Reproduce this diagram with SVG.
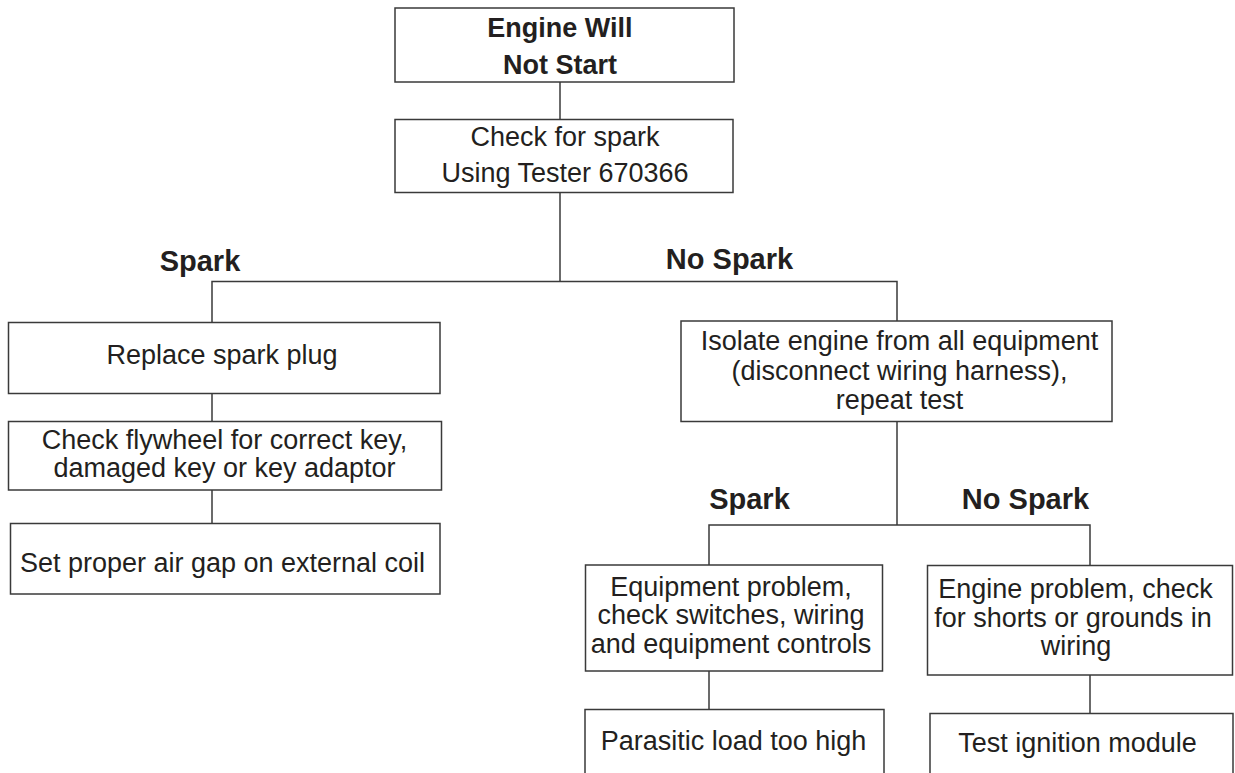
<svg xmlns="http://www.w3.org/2000/svg" width="1235" height="773" viewBox="0 0 1235 773">
  <style>
    .box { fill: #ffffff; stroke: #3a3a3a; stroke-width: 1.5; }
    .wire { fill: none; stroke: #3a3a3a; stroke-width: 1.5; }
    text { font-family: "Liberation Sans", Arial, sans-serif; fill: #231f20; text-anchor: middle; }
    .t { font-size: 27px; }
    .title { font-size: 27px; font-weight: bold; }
    .label { font-size: 29px; font-weight: bold; }
  </style>
  <rect width="1235" height="773" fill="#ffffff"/>

  <!-- connectors -->
  <g id="connectors">
    <path class="wire" d="M560 82 V119.5"/>
    <path class="wire" d="M560 192.5 V281.5"/>
    <path class="wire" d="M212 322.5 V281.5 H897 V321"/>
    <path class="wire" d="M212 393.5 V421.5"/>
    <path class="wire" d="M212 490 V523.5"/>
    <path class="wire" d="M897 421.5 V525"/>
    <path class="wire" d="M709 565 V525 H1090 V565.5"/>
    <path class="wire" d="M709 671 V709.5"/>
    <path class="wire" d="M1090 675 V713.5"/>
  </g>

  <!-- branch labels -->
  <g id="labels">
    <text class="label" x="200" y="270.5">Spark</text>
    <text class="label" x="729.5" y="268.5">No Spark</text>
    <text class="label" x="749.5" y="508.5">Spark</text>
    <text class="label" x="1025.5" y="508.5">No Spark</text>
  </g>

  <g id="engine-will-not-start">
    <rect class="box" x="395" y="8" width="339" height="74"/>
    <text class="title" x="560" y="36.5">Engine Will</text>
    <text class="title" x="560" y="74">Not Start</text>
  </g>

  <g id="check-for-spark">
    <rect class="box" x="395" y="119.5" width="338" height="73"/>
    <text class="t" x="565" y="145.5">Check for spark</text>
    <text class="t" x="565" y="181.5">Using Tester 670366</text>
  </g>

  <g id="replace-spark-plug">
    <rect class="box" x="8.5" y="322.5" width="431.5" height="71"/>
    <text class="t" x="222" y="364">Replace spark plug</text>
  </g>

  <g id="check-flywheel">
    <rect class="box" x="8.5" y="421.5" width="433" height="68.5"/>
    <text class="t" x="224.5" y="449">Check flywheel for correct key,</text>
    <text class="t" x="224.5" y="477">damaged key or key adaptor</text>
  </g>

  <g id="set-air-gap">
    <rect class="box" x="10.5" y="523.5" width="429.5" height="70.5"/>
    <text class="t" x="222.5" y="571.5">Set proper air gap on external coil</text>
  </g>

  <g id="isolate-engine">
    <rect class="box" x="681" y="321" width="431" height="100.5"/>
    <text class="t" x="899.5" y="349.5">Isolate engine from all equipment</text>
    <text class="t" x="899.5" y="379.5">(disconnect wiring harness),</text>
    <text class="t" x="899.5" y="409">repeat test</text>
  </g>

  <g id="equipment-problem">
    <rect class="box" x="585.5" y="565" width="297" height="106"/>
    <text class="t" x="731" y="595.5" textLength="241.5">Equipment problem,</text>
    <text class="t" x="731" y="624">check switches, wiring</text>
    <text class="t" x="731" y="653">and equipment controls</text>
  </g>

  <g id="engine-problem">
    <rect class="box" x="927.5" y="565.5" width="305" height="109.5"/>
    <text class="t" x="1075.5" y="598">Engine problem, check</text>
    <text class="t" x="1073" y="626.5">for shorts or grounds in</text>
    <text class="t" x="1076" y="655">wiring</text>
  </g>

  <g id="parasitic-load">
    <rect class="box" x="585" y="709.5" width="299" height="80"/>
    <text class="t" x="733.5" y="750">Parasitic load too high</text>
  </g>

  <g id="test-ignition-module">
    <rect class="box" x="930" y="713.5" width="303" height="80"/>
    <text class="t" x="1077.5" y="751.5">Test ignition module</text>
  </g>
</svg>
